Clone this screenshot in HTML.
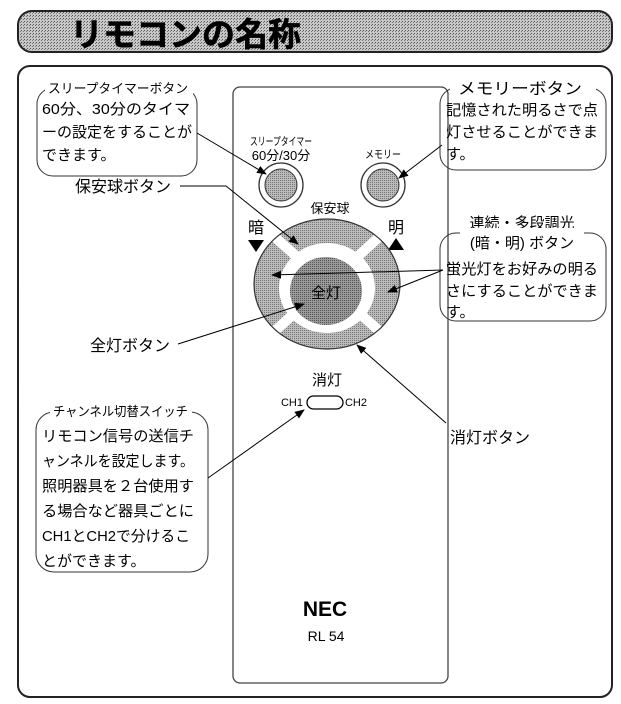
<!DOCTYPE html>
<html><head><meta charset="utf-8"><style>
html,body{margin:0;padding:0;background:#fff;}
svg{display:block;}
text{font-family:"Liberation Sans","Noto Sans CJK JP",sans-serif;fill:#000;}
</style></head><body>
<svg width="621" height="704" viewBox="0 0 621 704" xmlns="http://www.w3.org/2000/svg">
<defs>
<pattern id="dot" width="3" height="3" patternUnits="userSpaceOnUse">
<rect width="3" height="3" fill="#c8c8c8"/><rect width="1" height="1" fill="#555"/><rect x="2" y="1" width="1" height="1" fill="#777"/>
</pattern>
<pattern id="dot2" width="2" height="2" patternUnits="userSpaceOnUse">
<rect width="2" height="2" fill="#bbb"/><rect width="1" height="1" fill="#777"/>
</pattern>
<pattern id="dot3" width="2" height="2" patternUnits="userSpaceOnUse">
<rect width="2" height="2" fill="#999"/><rect width="1" height="1" fill="#555"/>
</pattern>
<marker id="ar" markerWidth="10" markerHeight="8" refX="9" refY="4" orient="auto" markerUnits="userSpaceOnUse">
<path d="M0,0 L10,4 L0,8 z" fill="#000"/></marker>
</defs>
<rect x="18" y="11" width="594" height="41" rx="14" fill="url(#dot)" stroke="#222" stroke-width="2"/>
<text x="70" y="46" font-size="33" font-weight="bold" stroke="#000" stroke-width="0.5">リモコンの名称</text>
<rect x="18" y="66" width="594" height="631" rx="12" fill="none" stroke="#222" stroke-width="2"/>
<rect x="233" y="87" width="215" height="596" rx="7" fill="#fff" stroke="#444" stroke-width="1.3"/>
<text x="281" y="145" font-size="11" text-anchor="middle" textLength="62" lengthAdjust="spacingAndGlyphs">スリープタイマー</text>
<text x="281" y="160" font-size="13" text-anchor="middle">60分/30分</text>
<text x="383" y="158" font-size="11" text-anchor="middle" textLength="36" lengthAdjust="spacingAndGlyphs">メモリー</text>
<circle cx="281" cy="185" r="22" fill="#fff" stroke="#333" stroke-width="1.3"/>
<circle cx="281" cy="185" r="16" fill="url(#dot2)" stroke="#333"/>
<circle cx="383" cy="185" r="22" fill="#fff" stroke="#333" stroke-width="1.3"/>
<circle cx="383" cy="185" r="16" fill="url(#dot2)" stroke="#333"/>
<text x="330" y="213" font-size="13" text-anchor="middle">保安球</text>
<text x="256" y="233" font-size="16" text-anchor="middle">暗</text>
<path d="M248,240 L264,240 L256,252 z" fill="#000"/>
<text x="396" y="233" font-size="16" text-anchor="middle">明</text>
<path d="M388,250 L404,250 L396,238 z" fill="#000"/>
<ellipse cx="327" cy="284" rx="73" ry="65" fill="url(#dot2)"/>
<g stroke="#fff" stroke-width="10">
<line x1="267" y1="230" x2="387" y2="338"/><line x1="387" y1="230" x2="267" y2="338"/>
</g>
<ellipse cx="327" cy="284" rx="73" ry="65" fill="none" stroke="#333" stroke-width="1.2"/>
<ellipse cx="327" cy="288" rx="48" ry="45" fill="#fff"/>
<ellipse cx="326" cy="291" rx="36" ry="34" fill="url(#dot3)"/>
<text x="311" y="298" font-size="15">全灯</text>
<text x="327" y="385" font-size="15" text-anchor="middle">消灯</text>
<text x="292" y="406" font-size="11" text-anchor="middle">CH1</text>
<rect x="307" y="396" width="36" height="13" rx="6.5" fill="#fff" stroke="#000" stroke-width="1.3"/>
<text x="356" y="406" font-size="11" text-anchor="middle">CH2</text>
<text x="325" y="616" font-size="21" font-weight="bold" text-anchor="middle">NEC</text>
<text x="326" y="641" font-size="14" text-anchor="middle">RL 54</text>
<rect x="37" y="88" width="160" height="88" rx="16" fill="none" stroke="#333"/>
<rect x="45" y="80" width="148" height="16" fill="#fff"/>
<text x="48" y="93" font-size="13" textLength="140" lengthAdjust="spacingAndGlyphs">スリープタイマーボタン</text>
<text x="42" y="114" font-size="15" textLength="148" lengthAdjust="spacingAndGlyphs">60分、30分のタイマ</text>
<text x="42" y="137" font-size="15" textLength="150" lengthAdjust="spacingAndGlyphs">ーの設定をすることが</text>
<text x="42" y="160" font-size="15">できます。</text>
<rect x="440" y="88" width="166" height="82" rx="16" fill="none" stroke="#333"/>
<rect x="450" y="78" width="146" height="18" fill="#fff"/>
<text x="458" y="94" font-size="16" textLength="124" lengthAdjust="spacingAndGlyphs">メモリーボタン</text>
<text x="446" y="115" font-size="15" textLength="152" lengthAdjust="spacingAndGlyphs">記憶された明るさで点</text>
<text x="446" y="137" font-size="15" textLength="152" lengthAdjust="spacingAndGlyphs">灯させることができま</text>
<text x="446" y="159" font-size="15">す。</text>
<text x="522" y="228" font-size="15" text-anchor="middle">連続・多段調光</text>
<rect x="440" y="233" width="166" height="88" rx="16" fill="none" stroke="#333"/>
<rect x="460" y="228" width="124" height="20" fill="#fff"/>
<text x="522" y="248" font-size="15" text-anchor="middle">(暗・明) ボタン</text>
<text x="446" y="274" font-size="15" textLength="152" lengthAdjust="spacingAndGlyphs">蛍光灯をお好みの明る</text>
<text x="446" y="296" font-size="15" textLength="152" lengthAdjust="spacingAndGlyphs">さにすることができま</text>
<text x="446" y="317" font-size="15">す。</text>
<rect x="36" y="412" width="172" height="160" rx="18" fill="none" stroke="#333"/>
<rect x="50" y="402" width="142" height="18" fill="#fff"/>
<text x="53" y="416" font-size="13" textLength="135" lengthAdjust="spacingAndGlyphs">チャンネル切替スイッチ</text>
<text x="42" y="441" font-size="15" textLength="152" lengthAdjust="spacingAndGlyphs">リモコン信号の送信チ</text>
<text x="42" y="466" font-size="15" textLength="152" lengthAdjust="spacingAndGlyphs">ャンネルを設定します。</text>
<text x="42" y="491" font-size="15" textLength="152" lengthAdjust="spacingAndGlyphs">照明器具を２台使用す</text>
<text x="42" y="516" font-size="15" textLength="152" lengthAdjust="spacingAndGlyphs">る場合など器具ごとに</text>
<text x="42" y="541" font-size="15" textLength="148" lengthAdjust="spacingAndGlyphs">CH1とCH2で分けるこ</text>
<text x="42" y="566" font-size="15">とができます。</text>
<text x="75" y="192" font-size="16">保安球ボタン</text>
<text x="90" y="351" font-size="16">全灯ボタン</text>
<text x="450" y="443" font-size="16">消灯ボタン</text>
<g stroke="#000" stroke-width="1" fill="none" marker-end="url(#ar)">
<line x1="197" y1="133" x2="266" y2="174"/>
<line x1="442" y1="145" x2="399" y2="178"/>
<polyline points="180,186 226,186 298,244"/>
<line x1="443" y1="270" x2="272" y2="275"/>
<line x1="443" y1="270" x2="388" y2="292"/>
<line x1="178" y1="344" x2="304" y2="304"/>
<line x1="446" y1="423" x2="357" y2="345"/>
<line x1="208" y1="478" x2="304" y2="410"/>
</g>
</svg>
</body></html>
